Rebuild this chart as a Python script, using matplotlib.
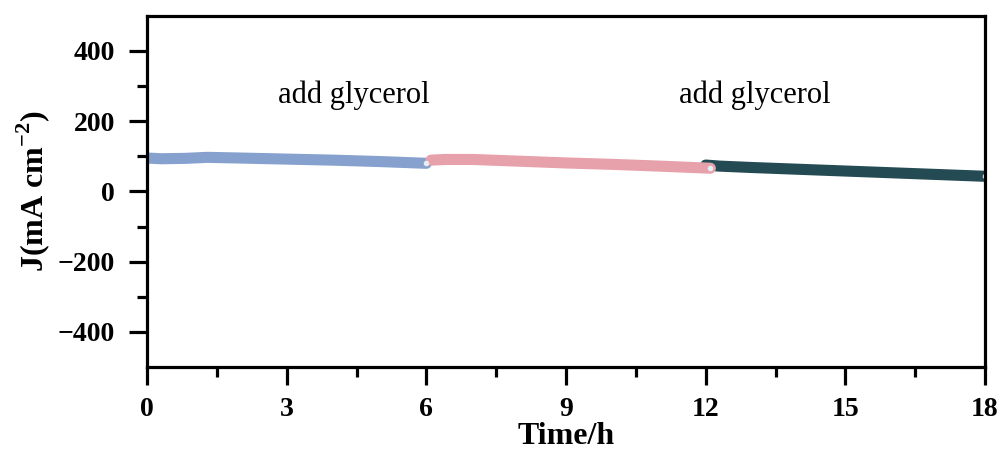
import numpy as np
import matplotlib
matplotlib.use('Agg')
import matplotlib.pyplot as plt
from matplotlib.ticker import MultipleLocator

plt.rcParams['font.family'] = ['Liberation Serif', 'DejaVu Serif']
plt.rcParams['mathtext.fontset'] = 'custom'
plt.rcParams['mathtext.rm'] = 'Liberation Serif'
plt.rcParams['mathtext.bf'] = 'Liberation Serif:bold'

# segment 1 (blue)
t1 = [0.0, 0.3, 0.8, 1.3, 2.0, 3.0, 4.0, 5.0, 6.0]
j1 = [95, 93, 94, 97, 95, 92, 89, 85, 80]
# segment 2 (pink)
t2 = [6.1, 6.4, 7.0, 8.0, 9.0, 10.0, 11.0, 12.1]
j2 = [89, 91, 91, 86, 81, 77, 72, 66]
# segment 3 (dark)
t3 = [12.0, 12.3, 13.0, 14.0, 15.0, 16.0, 17.0, 18.0]
j3 = [75, 72, 68, 63, 58, 53, 48, 43]

c1 = '#87a1cf'
c2 = '#e7a1aa'
c3 = '#244a53'

fig = plt.figure(figsize=(10.03, 4.53), dpi=100)
ax = fig.add_axes([0.1466, 0.19, 0.8355, 0.775])

ax.plot(t1, j1, color=c1, lw=8, solid_capstyle='round')
ax.plot(t3, j3, color=c3, lw=8, solid_capstyle='round')
ax.plot(t2, j2, color=c2, lw=8, solid_capstyle='round')
for t, j in [(t1, j1), (t2, j2), (t3, j3)]:
    ax.plot(t[-1], j[-1], 'o', color='#e6eef5', ms=3)

ax.text(4.45, 275, 'add glycerol', fontsize=22, ha='center', va='center')
ax.text(13.05, 275, 'add glycerol', fontsize=22, ha='center', va='center')

ax.set_xlim(0, 18)
ax.set_ylim(-500, 500)
ax.xaxis.set_major_locator(MultipleLocator(3))
ax.xaxis.set_minor_locator(MultipleLocator(1.5))
ax.set_yticks([-400, -200, 0, 200, 400])
ax.set_yticks([-300, -100, 100, 300], minor=True)
ax.set_yticklabels(['\u2212400', '\u2212200', '0', '200', '400'])

for s in ax.spines.values():
    s.set_linewidth(2.3)
ax.tick_params(which='major', direction='out', length=13, width=2.3, labelsize=20)
ax.tick_params(which='minor', direction='out', length=7, width=2.3)
ax.tick_params(axis='x', which='major', pad=9)
ax.tick_params(axis='y', which='major', pad=10)
for lab in ax.get_xticklabels() + ax.get_yticklabels():
    lab.set_fontweight('bold')

ax.set_xlabel('Time/h', fontsize=23, fontweight='bold', labelpad=0)
ax.set_ylabel(r'J(mA cm$^{\mathbf{-2}}$)', fontsize=23, fontweight='bold', labelpad=4)

fig.savefig('out.png', dpi=100)
